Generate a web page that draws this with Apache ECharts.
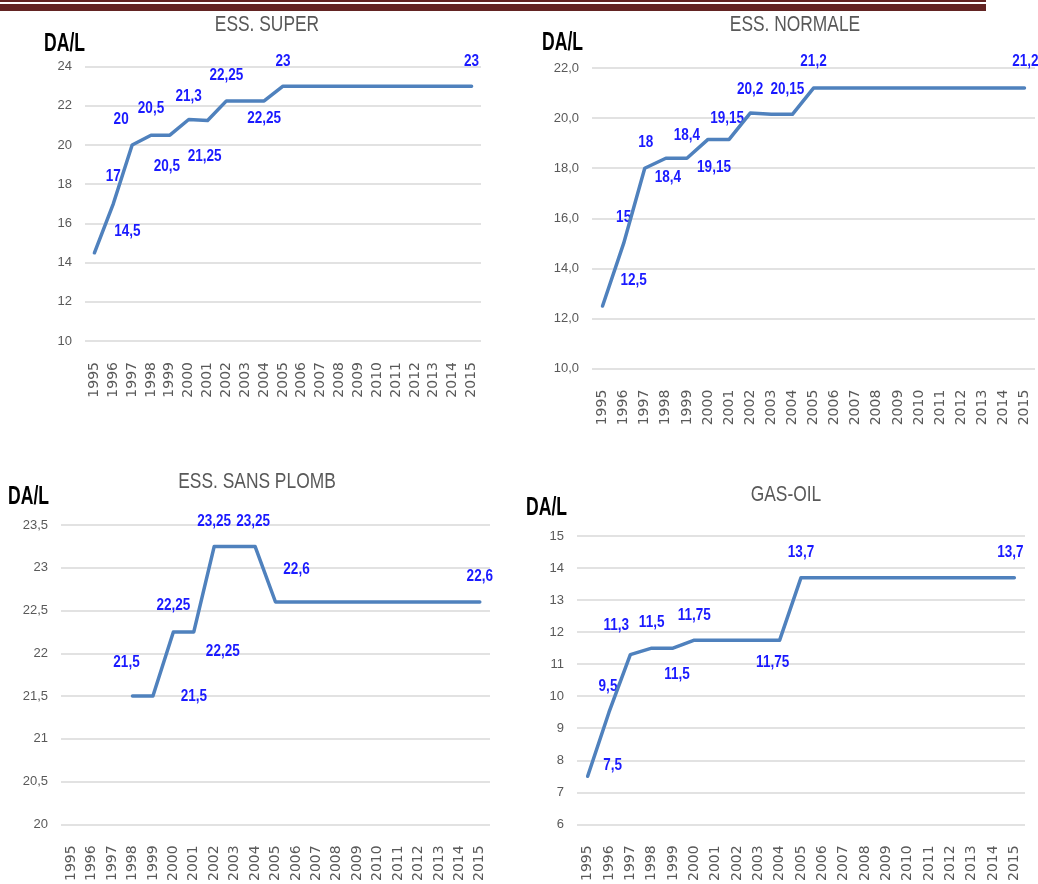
<!DOCTYPE html>
<html>
<head>
<meta charset="utf-8">
<script src="https://cdn.jsdelivr.net/npm/echarts@6/dist/echarts.min.js"></script>
<style>
  html, body { margin: 0; padding: 0; background: #ffffff; }
  #chart { width: 1038px; height: 884px; }
</style>
</head>
<body>
<div id="chart"></div>
<script>
// Years shown on every category axis
const years = ['1995','1996','1997','1998','1999','2000','2001','2002','2003','2004',
               '2005','2006','2007','2008','2009','2010','2011','2012','2013','2014','2015'];

// Prices in DA per litre, one value per year
const superPrices     = [14.5, 17, 20, 20.5, 20.5, 21.3, 21.25, 22.25, 22.25, 22.25,
                         23, 23, 23, 23, 23, 23, 23, 23, 23, 23, 23];
const normalePrices   = [12.5, 15, 18, 18.4, 18.4, 19.15, 19.15, 20.2, 20.15, 20.15,
                         21.2, 21.2, 21.2, 21.2, 21.2, 21.2, 21.2, 21.2, 21.2, 21.2, 21.2];
const sansPlombPrices = [null, null, null, 21.5, 21.5, 22.25, 22.25, 23.25, 23.25, 23.25,
                         22.6, 22.6, 22.6, 22.6, 22.6, 22.6, 22.6, 22.6, 22.6, 22.6, 22.6];
const gasOilPrices    = [7.5, 9.5, 11.3, 11.5, 11.5, 11.75, 11.75, 11.75, 11.75, 11.75,
                         13.7, 13.7, 13.7, 13.7, 13.7, 13.7, 13.7, 13.7, 13.7, 13.7, 13.7];

// Panel titles and value-axis ranges [min, max, step]
const titles = ['ESS. SUPER', 'ESS. NORMALE', 'ESS. SANS PLOMB', 'GAS-OIL'];
const superRange     = [10, 24, 2];
const normaleRange   = [10, 22, 2];
const sansPlombRange = [20, 23.5, 0.5];
const gasOilRange    = [6, 15, 1];

// Where each value label sits relative to its point (px), by year
const superLabelPos = {
  '1995': [33, -21], '1996': [0, -27], '1997': [-11, -26], '1998': [0, -27], '1999': [-3, 31],
  '2000': [0, -23], '2001': [-3, 36], '2002': [0, -25], '2004': [0, 18], '2005': [0, -25], '2015': [0, -25]
};
const normaleLabelPos = {
  '1995': [31, -26], '1996': [0, -26], '1997': [1, -26], '1998': [2, 19], '1999': [0, -23],
  '2000': [6, 28], '2001': [-2, -21], '2002': [0, -24], '2004': [-5, -25], '2005': [0, -27], '2015': [1, -27]
};
const sansPlombLabelPos = {
  '1998': [-6, -34], '1999': [41, 0], '2000': [0, -26], '2001': [29, 20], '2002': [0, -25],
  '2004': [-2, -25], '2005': [21, -33], '2015': [0, -26]
};
const gasOilLabelPos = {
  '1995': [25, -11], '1996': [-1, -26], '1997': [-14, -29], '1998': [0, -26], '1999': [4, 26],
  '2000': [0, -25], '2004': [-7, 22], '2005': [0, -25], '2015': [-4, -25]
};

const comma = v => String(v).replace('.', ',');

const SANS = '"Liberation Sans", Arial, sans-serif';
const LINE_BLUE = '#4f81bd';
const LABEL_BLUE = '#1a1aff';
const AXIS_GREY = '#595959';

// Four panels, laid out as a 2x2 page
const panels = [
  { grid: { left: 85,  top: 66.6, width: 396, height: 274.4 }, range: superRange,     fmt: v => String(v),                       values: superPrices,     pos: superLabelPos,
    title: [267, 25], unit: [44, 44] },
  { grid: { left: 592, top: 68,   width: 443, height: 300.7 }, range: normaleRange,   fmt: v => v.toFixed(1).replace('.', ','), values: normalePrices,   pos: normaleLabelPos,
    title: [795, 25], unit: [542, 43] },
  { grid: { left: 61,  top: 525,  width: 429, height: 302.3 }, range: sansPlombRange, fmt: comma,                               values: sansPlombPrices, pos: sansPlombLabelPos,
    title: [257, 482], unit: [8, 497] },
  { grid: { left: 577, top: 536,  width: 448, height: 290.7 }, range: gasOilRange,    fmt: v => String(v),                       values: gasOilPrices,    pos: gasOilLabelPos,
    title: [786, 495], unit: [526, 508] }
];

const grids = [], xAxes = [], yAxes = [], series = [], graphics = [];

// Page header rules
graphics.push({ type: 'rect', shape: { x: 0, y: 0, width: 986, height: 2 }, style: { fill: '#632423' }, silent: true });
graphics.push({ type: 'rect', shape: { x: 0, y: 4, width: 986, height: 7 }, style: { fill: '#632423' }, silent: true });

// Value labels: condensed bold text placed at each labelled point
function renderValueLabel(params, api) {
  const pt = api.coord([api.value(0), api.value(1)]);
  const txt = comma(api.value(1));
  return {
    type: 'text',
    x: pt[0] + api.value(2),
    y: pt[1] + api.value(3),
    scaleX: 0.82,
    silent: true,
    style: {
      text: txt, fill: LABEL_BLUE, font: 'bold 16.5px ' + SANS,
      align: 'center', verticalAlign: 'middle',
      textAlign: 'center', textVerticalAlign: 'middle'
    }
  };
}

panels.forEach((p, i) => {
  grids.push(Object.assign({ containLabel: false }, p.grid));

  xAxes.push({
    type: 'category', gridIndex: i, data: years, boundaryGap: true,
    axisLine: { show: false }, axisTick: { show: false },
    axisLabel: { rotate: 90, margin: 21, interval: 0, color: AXIS_GREY,
                 fontFamily: '"DejaVu Sans", sans-serif', fontSize: 14 },
    splitLine: { show: false }
  });

  yAxes.push({
    type: 'value', gridIndex: i, min: p.range[0], max: p.range[1], interval: p.range[2],
    axisLine: { show: false }, axisTick: { show: false },
    axisLabel: { margin: 13, color: AXIS_GREY, fontFamily: SANS, fontSize: 13, formatter: p.fmt },
    splitLine: { lineStyle: { color: '#d9d9d9', width: 1.5 } }
  });

  // Price line
  series.push({
    type: 'line', xAxisIndex: i, yAxisIndex: i, data: p.values,
    connectNulls: false, showSymbol: false, symbol: 'none',
    lineStyle: { color: LINE_BLUE, width: 3.5, cap: 'round', join: 'round' },
    emphasis: { disabled: true },
    silent: true
  });

  // Labelled points: [year index, value, dx, dy]
  const labelled = [];
  p.values.forEach((v, k) => {
    const off = p.pos[years[k]];
    if (v !== null && off) labelled.push([k, v, off[0], off[1]]);
  });
  series.push({
    type: 'custom', xAxisIndex: i, yAxisIndex: i, data: labelled,
    encode: { x: 0, y: 1 }, clip: false, silent: true,
    renderItem: renderValueLabel
  });

  // Panel title
  graphics.push({
    type: 'text', x: p.title[0], y: p.title[1], scaleX: 0.79, silent: true,
    style: { text: titles[i], fill: AXIS_GREY, font: '22px ' + SANS,
             textAlign: 'center', textVerticalAlign: 'middle' }
  });
  // Unit caption above the value axis
  graphics.push({
    type: 'text', x: p.unit[0], y: p.unit[1], scaleX: 0.8, scaleY: 1.15, silent: true,
    style: { text: 'DA/L', fill: '#000000', font: 'bold 22px ' + SANS,
             textAlign: 'left', textVerticalAlign: 'middle' }
  });
});

const chart = echarts.init(document.getElementById('chart'), null, { renderer: 'canvas' });
chart.setOption({
  animation: false,
  backgroundColor: '#ffffff',
  grid: grids,
  xAxis: xAxes,
  yAxis: yAxes,
  series: series,
  graphic: graphics
});
</script>
</body>
</html>
